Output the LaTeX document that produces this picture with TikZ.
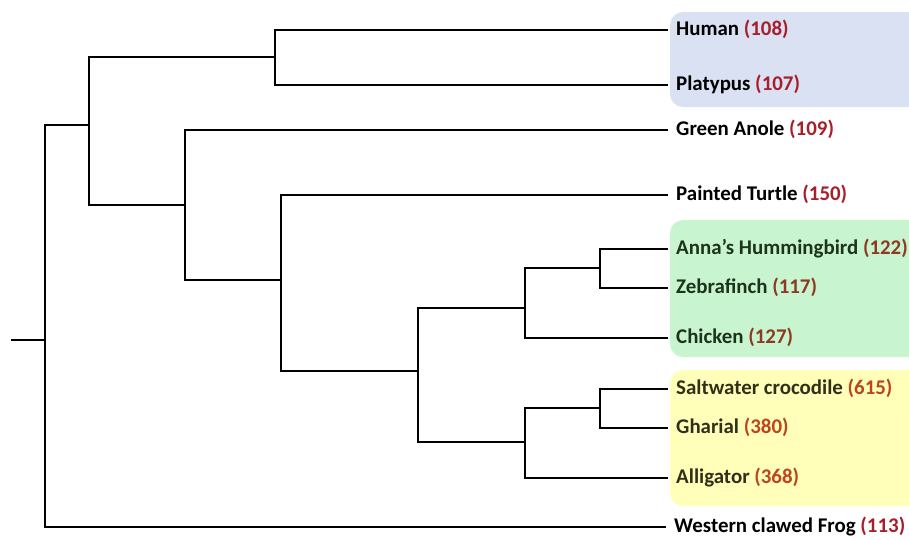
\documentclass[tikz,border=0pt]{standalone}
\usepackage{fontspec}
\setmainfont{Carlito}
\usepackage{xcolor}
\usetikzlibrary{positioning}

\definecolor{boxblue}{HTML}{DAE1F2}
\definecolor{boxgreen}{HTML}{C8F5CF}
\definecolor{boxyellow}{HTML}{FFFFBA}
\definecolor{numred}{HTML}{A61F2A}
\definecolor{numbrown}{HTML}{8E3A22}
\definecolor{numorange}{HTML}{BE4420}
\definecolor{txtgreen}{HTML}{1B341B}
\definecolor{txtolive}{HTML}{30301A}

\begin{document}
\begin{tikzpicture}[
		x=1pt, y=-1pt,
		% leaf labels sit just right of the tip of each branch
		leaf/.style={
			anchor=west,
			inner xsep=9pt,
			inner ysep=0pt,
			font=\fontsize{20.9}{23}\selectfont\bfseries,
			text height=1.1em,
			text depth=0.04em
		},
		branch/.style={line width=1.3pt, line cap=rect},
		clade/.style={rounded corners=13pt}
		]
		
		\clip (0,0) rectangle (909,539);
		\useasboundingbox (0,0) rectangle (909,539);
		
		% --- 1. Shaded clades (behind the labels) ---
		\fill[clade, boxblue] (670,12) rectangle (925,107);
		\fill[clade, boxgreen] (670,220) rectangle (925,357);
		\fill[clade, boxyellow] (670,370) rectangle (925,506);
		
		% --- 2. Leaves ---
		\node[leaf] (human) at (667,30) {Human \textcolor{numred}{(108)}};
		\node[leaf] (platypus) at (667,85) {Platypus \textcolor{numred}{(107)}};
		\node[leaf] (anole) at (667,130) {Green Anole \textcolor{numred}{(109)}};
		\node[leaf] (turtle) at (667,195) {Painted Turtle \textcolor{numred}{(150)}};
		\node[leaf, text=txtgreen] (anna) at (667,249) {Anna’s Hummingbird \textcolor{numbrown}{(122)}};
		\node[leaf, text=txtgreen] (zebra) at (667,288) {Zebrafinch \textcolor{numbrown}{(117)}};
		\node[leaf, text=txtgreen] (chicken) at (667,338) {Chicken \textcolor{numbrown}{(127)}};
		\node[leaf, text=txtolive] (salt) at (667,389) {Saltwater crocodile \textcolor{numorange}{(615)}};
		\node[leaf, text=txtolive] (gharial) at (667,428) {Gharial \textcolor{numorange}{(380)}};
		\node[leaf, text=txtolive] (gator) at (667,478) {Alligator \textcolor{numorange}{(368)}};
		\node[leaf] (frog) at (665,527) {Western clawed Frog \textcolor{numred}{(113)}};
		
		% --- 3. Internal nodes ---
		\coordinate (stem) at (12,340);
		\coordinate (root) at (45,340);
		\coordinate (amniota) at (89,125);
		\coordinate (mammals) at (275,57);
		\coordinate (sauria) at (185,205);
		\coordinate (archelo) at (281,280);
		\coordinate (archo) at (418,371);
		\coordinate (birds) at (525,308);
		\coordinate (passer) at (600,268);
		\coordinate (croc) at (525,442);
		\coordinate (crocsub) at (600,408);
		
		% --- 4. Branches ---
		\draw[branch] (stem) -- (root);
		\draw[branch] (root) |- (amniota);
		\draw[branch] (root) |- (frog.west);
		
		\draw[branch] (amniota) |- (mammals);
		\draw[branch] (amniota) |- (sauria);
		\draw[branch] (mammals) |- (human.west);
		\draw[branch] (mammals) |- (platypus.west);
		
		\draw[branch] (sauria) |- (anole.west);
		\draw[branch] (sauria) |- (archelo);
		\draw[branch] (archelo) |- (turtle.west);
		\draw[branch] (archelo) |- (archo);
		
		\draw[branch] (archo) |- (birds);
		\draw[branch] (archo) |- (croc);
		\draw[branch] (birds) |- (passer);
		\draw[branch] (birds) |- (chicken.west);
		\draw[branch] (passer) |- (anna.west);
		\draw[branch] (passer) |- (zebra.west);
		
		\draw[branch] (croc) |- (crocsub);
		\draw[branch] (croc) |- (gator.west);
		\draw[branch] (crocsub) |- (salt.west);
		\draw[branch] (crocsub) |- (gharial.west);
		
	\end{tikzpicture}
\end{document}
